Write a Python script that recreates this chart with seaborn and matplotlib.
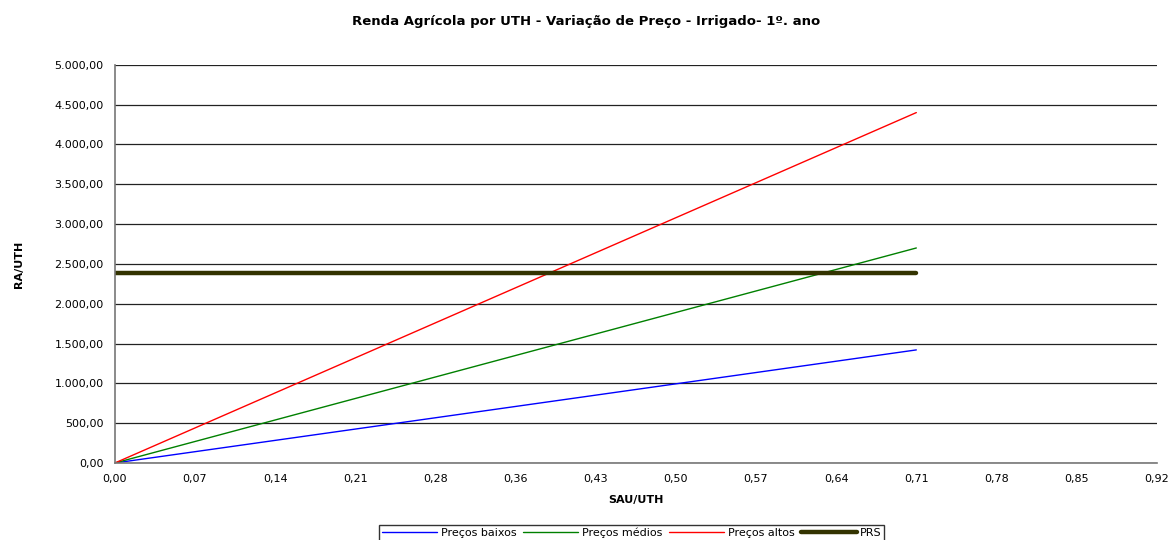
import numpy as np
import pandas as pd
import matplotlib
matplotlib.use("Agg")
import matplotlib.pyplot as plt
import seaborn as sns

# categories on the x axis (SAU/UTH)
sau_labels = ["0,00", "0,07", "0,14", "0,21", "0,28", "0,36", "0,43",
              "0,50", "0,57", "0,64", "0,71", "0,78", "0,85", "0,92"]

# RA/UTH series, one value per category up to 0,71
precos_baixos = [0, 142, 284, 426, 568, 710, 852, 994, 1136, 1278, 1420]
precos_medios = [0, 270, 540, 810, 1080, 1350, 1620, 1890, 2160, 2430, 2700]
precos_altos = [0, 440, 880, 1320, 1760, 2200, 2640, 3080, 3520, 3960, 4400]
prs = [2380] * 11

y_ticks = [0, 500, 1000, 1500, 2000, 2500, 3000, 3500, 4000, 4500, 5000]

series = {
    "Preços baixos": precos_baixos,
    "Preços médios": precos_medios,
    "Preços altos": precos_altos,
    "PRS": prs,
}
rows = []
for name, vals in series.items():
    for i, v in enumerate(vals):
        rows.append({"pos": i, "valor": v, "serie": name})
df = pd.DataFrame(rows)

sns.set_style("white")
plt.rcParams["font.family"] = ["DejaVu Sans"]
plt.rcParams["text.color"] = "black"
plt.rcParams["axes.labelcolor"] = "black"
plt.rcParams["xtick.labelcolor"] = "black"
plt.rcParams["ytick.labelcolor"] = "black"

fig = plt.figure(figsize=(11.72, 5.40), dpi=100)
ax = fig.add_axes([0.098, 0.1426, 0.889, 0.7374])

palette = {"Preços baixos": "#0000ff", "Preços médios": "#008000",
           "Preços altos": "#ff0000", "PRS": "#333300"}
sizes = {"Preços baixos": 1.0, "Preços médios": 1.0,
         "Preços altos": 1.0, "PRS": 3.2}
sns.lineplot(data=df, x="pos", y="valor", hue="serie", size="serie",
             sizes=sizes, palette=palette, ax=ax, legend=False)

def fmt_br(v):
    s = f"{v:,.2f}"
    return s.replace(",", "X").replace(".", ",").replace("X", ".")

ax.set_xlim(0, len(sau_labels) - 1)
ax.set_ylim(0, 5000)
ax.set_xticks(range(len(sau_labels)))
ax.set_xticklabels(sau_labels, fontsize=8)
ax.set_yticks(y_ticks)
ax.set_yticklabels([fmt_br(v) for v in y_ticks], fontsize=8)
ax.tick_params(axis="both", direction="out", length=4, width=0.8,
               color="#555555", pad=4)
ax.yaxis.grid(True, color="#222222", linewidth=0.9)
ax.set_axisbelow(True)
for s in ["top", "right"]:
    ax.spines[s].set_visible(False)
for s in ["left", "bottom"]:
    ax.spines[s].set_color("#777777")
    ax.spines[s].set_linewidth(1.2)

ax.set_xlabel("SAU/UTH", fontsize=8, fontweight="bold", labelpad=8)
ax.set_ylabel("RA/UTH", fontsize=8, fontweight="bold", labelpad=22)
fig.suptitle("Renda Agrícola por UTH - Variação de Preço - Irrigado- 1º. ano",
             fontsize=9.5, fontweight="bold", y=0.972)

handles = [plt.Line2D([], [], color=palette[n], linewidth=sizes[n])
           for n in series]
fig.legend(handles, list(series.keys()), loc="lower center",
           bbox_to_anchor=(0.539, -0.012), ncol=4, fontsize=8,
           frameon=True, fancybox=False, edgecolor="#000000",
           handlelength=5, columnspacing=0.6, handletextpad=0.3,
           borderpad=0.25)

fig.savefig("out.png", dpi=100)
